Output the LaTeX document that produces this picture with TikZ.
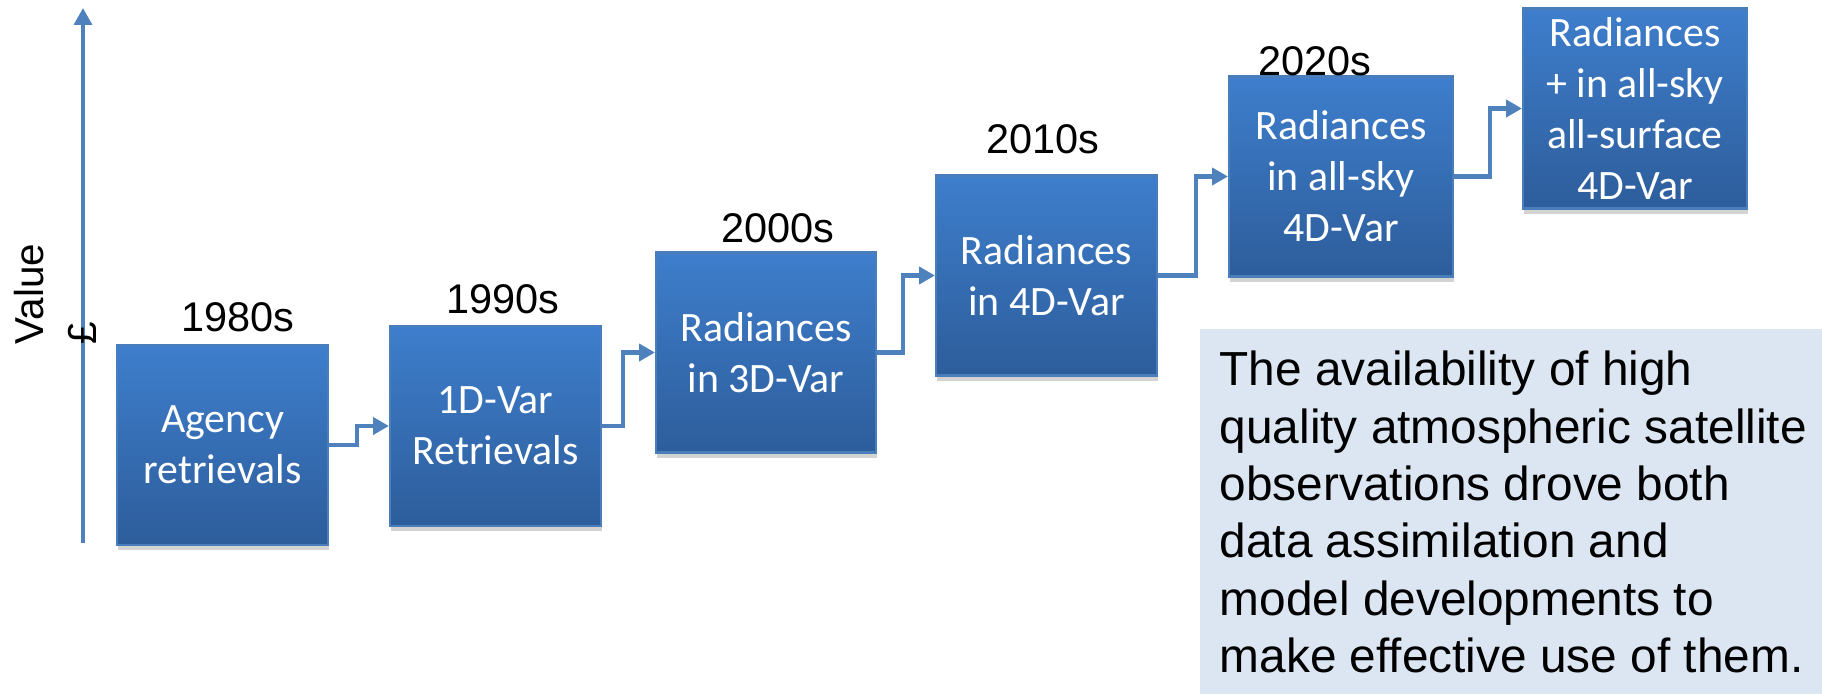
\documentclass[tikz,border=0pt]{standalone}
\usepackage{fontspec}
\setmainfont{Liberation Sans}
\newfontfamily\boxfont{Carlito}
\usetikzlibrary{positioning,arrows.meta,shadows}

\definecolor{stagetop}{RGB}{62,126,204}
\definecolor{stagebottom}{RGB}{45,93,155}
\definecolor{stageline}{RGB}{74,126,187}
\definecolor{linkblue}{RGB}{79,129,189}
\definecolor{notefill}{RGB}{220,230,242}

\tikzset{
  stage/.style={rectangle, draw=stageline, line width=0.6pt,
    top color=stagetop, bottom color=stagebottom,
    minimum width=2.2cm, minimum height=2cm, inner sep=1pt,
    align=center, text=white, font=\boxfont\fontsize{11.9}{14.5}\selectfont,
    drop shadow={shadow xshift=0.3pt, shadow yshift=-1.5pt, opacity=0.35}},
  decade/.style={font=\fontsize{11.8}{13}\selectfont, inner sep=0pt},
  link/.style={draw=linkblue, line width=1.3pt, -{Triangle[length=4.5pt,width=4.8pt]}},
}

\begin{document}
\begin{tikzpicture}
  \useasboundingbox (0,0) rectangle (18.22,6.95);
  % value axis
  \coordinate (axbot) at (0.83,1.52);
  \coordinate (axtop) at (0.83,6.87);
  \draw[draw=linkblue, line width=1.4pt, -{Triangle[length=4.8pt,width=5pt]}] (axbot) -- (axtop);
  \node[rotate=90, anchor=north west, align=left, inner sep=0pt, font=\fontsize{11.5}{14.8}\selectfont] (axlabel) at (0.14,3.50) {Value\\£};

  % stages
  \node[stage, minimum width=2.11cm] (agency) at (2.225,2.50) {Agency\\retrievals};
  \node[stage, minimum width=2.11cm] (onedvar) at (4.955,2.69) {1D-Var\\Retrievals};
  \node[stage] (threedvar) at (7.66,3.425) {Radiances\\in 3D-Var};
  \node[stage, minimum width=2.21cm] (fourdvar) at (10.465,4.195) {Radiances\\in 4D-Var};
  \node[stage, minimum width=2.24cm] (allsky) at (13.41,5.185) {Radiances\\in all-sky\\4D-Var};
  \node[stage, minimum width=2.24cm] (allsurf) at (16.35,5.865) {Radiances\\+ in all-sky\\all-surface\\4D-Var};

  % decades
  \node[decade] (d1980) at (2.375,3.78) {1980s};
  \node[decade] (d1990) at (5.03,3.96) {1990s};
  \node[decade] (d2000) at (7.78,4.665) {2000s};
  \node[decade] (d2010) at (10.43,5.56) {2010s};
  \node[decade] (d2020) at (13.145,6.335) {2020s};

  % steps
  \draw[link] (agency.east) -| ([xshift=-3.2mm]onedvar.west) -- (onedvar.west);
  \draw[link] (onedvar.east) -| ([xshift=-3.2mm]threedvar.west) -- (threedvar.west);
  \draw[link] (threedvar.east) -| ([xshift=-3.2mm]fourdvar.west) -- (fourdvar.west);
  \draw[link] (fourdvar.east) -| ([xshift=-3.2mm]allsky.west) -- (allsky.west);
  \draw[link] (allsky.east) -| ([xshift=-3.2mm]allsurf.west) -- (allsurf.west);

  % note
  \node[fill=notefill, minimum width=6.23cm, minimum height=3.65cm, anchor=south west, inner sep=0pt] (note) at (11.99,0) {};
  \node[anchor=north west, align=left, inner sep=0pt, font=\fontsize{13.6}{16.3}\selectfont] (notetext)
    at ([xshift=2mm, yshift=-2.2mm]note.north west)
    {The availability of high\\quality atmospheric satellite\\observations drove both\\data assimilation and\\model developments to\\make effective use of them.};
\end{tikzpicture}
\end{document}
